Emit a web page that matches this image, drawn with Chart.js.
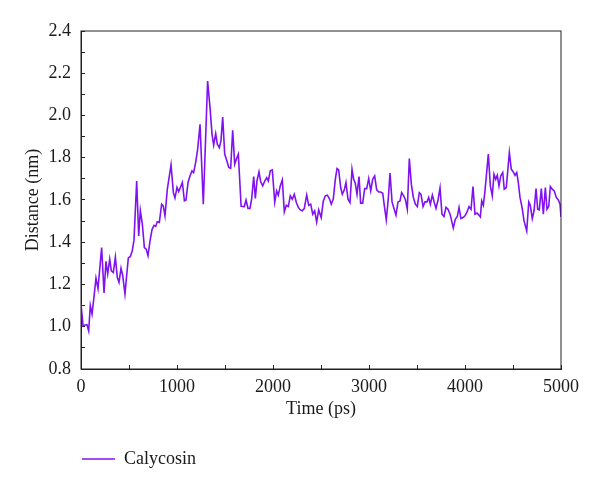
<!DOCTYPE html>
<html>
<head>
<meta charset="utf-8">
<script src="https://cdn.jsdelivr.net/npm/chart.js@4/dist/chart.umd.min.js"></script>
<style>
    html, body { margin: 0; padding: 0; background: #fff; }
    #wrap { width: 600px; height: 491px; }
</style>
</head>
<body>
<div id="wrap"><canvas id="myChart" width="600" height="491"></canvas></div>
<script>
const seriesName = 'Calycosin';
const timePs = [
    0, 21, 45, 62, 80, 97, 115, 135, 156, 177, 215, 240, 260, 278, 299, 316, 337, 358, 378, 396,
    417, 434, 458, 476, 493, 514, 534, 552, 580, 601, 618, 639, 660, 680, 698, 719, 740, 760, 778, 795,
    816, 840, 857, 875, 899, 938, 962, 979, 1000, 1017, 1038, 1056, 1077, 1094, 1115, 1135, 1156, 1173, 1194, 1215,
    1240, 1274, 1319, 1344, 1365, 1382, 1403, 1420, 1441, 1458, 1476, 1497, 1518, 1539, 1559, 1580, 1601, 1618, 1639, 1668,
    1701, 1719, 1740, 1760, 1778, 1799, 1816, 1833, 1854, 1872, 1893, 1914, 1934, 1951, 1972, 1993, 2018, 2038, 2055, 2076,
    2097, 2118, 2139, 2160, 2180, 2201, 2222, 2243, 2264, 2284, 2305, 2326, 2351, 2372, 2393, 2414, 2434, 2455, 2476, 2502,
    2524, 2545, 2566, 2587, 2607, 2628, 2649, 2667, 2684, 2705, 2722, 2743, 2760, 2781, 2802, 2823, 2840, 2857, 2875, 2896,
    2913, 2934, 2955, 2976, 2997, 3018, 3038, 3059, 3080, 3101, 3122, 3143, 3159, 3180, 3201, 3219, 3240, 3260, 3281, 3302,
    3323, 3340, 3357, 3378, 3399, 3420, 3441, 3462, 3483, 3503, 3524, 3542, 3563, 3583, 3604, 3622, 3639, 3660, 3680, 3698,
    3719, 3740, 3760, 3781, 3802, 3823, 3844, 3861, 3878, 3899, 3920, 3938, 3958, 3979, 4000, 4021, 4042, 4063, 4083, 4104,
    4125, 4146, 4160, 4174, 4191, 4208, 4243, 4264, 4284, 4302, 4320, 4336, 4354, 4372, 4393, 4409, 4430, 4462, 4482, 4503,
    4521, 4539, 4555, 4573, 4594, 4615, 4643, 4664, 4680, 4701, 4719, 4740, 4757, 4774, 4795, 4816, 4837, 4854, 4872, 4889,
    4909, 4930, 4951, 4972, 4990, 5000
];
const distanceNm = [
    1.107, 1.005, 1.008, 1.01, 0.98, 1.10, 1.06, 1.14, 1.23, 1.18, 1.375, 1.16, 1.31, 1.25, 1.32, 1.265, 1.257, 1.33, 1.234, 1.21,
    1.277, 1.244, 1.155, 1.244, 1.326, 1.333, 1.36, 1.41, 1.69, 1.43, 1.55, 1.486, 1.375, 1.367, 1.336, 1.406, 1.46, 1.48, 1.475, 1.497,
    1.494, 1.58, 1.572, 1.525, 1.65, 1.766, 1.635, 1.61, 1.66, 1.64, 1.662, 1.683, 1.596, 1.60, 1.683, 1.714, 1.738, 1.73, 1.777, 1.84,
    1.958, 1.58, 2.163, 2.037, 1.911, 1.86, 1.914, 1.864, 1.848, 1.88, 1.993, 1.816, 1.788, 1.754, 1.75, 1.93, 1.77, 1.793, 1.817, 1.57,
    1.569, 1.60, 1.56, 1.56, 1.607, 1.711, 1.607, 1.69, 1.733, 1.686, 1.667, 1.69, 1.706, 1.69, 1.738, 1.742, 1.59, 1.643, 1.623, 1.667,
    1.695, 1.544, 1.575, 1.569, 1.62, 1.604, 1.627, 1.588, 1.565, 1.553, 1.549, 1.56, 1.623, 1.575, 1.58, 1.533, 1.549, 1.496, 1.553, 1.517,
    1.596, 1.62, 1.623, 1.607, 1.58, 1.604, 1.698, 1.749, 1.742, 1.659, 1.627, 1.648, 1.683, 1.604, 1.588, 1.746, 1.698, 1.679, 1.627, 1.711,
    1.585, 1.585, 1.654, 1.654, 1.702, 1.643, 1.698, 1.714, 1.648, 1.638, 1.638, 1.632, 1.575, 1.506, 1.607, 1.727, 1.591, 1.56, 1.528, 1.591,
    1.596, 1.635, 1.623, 1.604, 1.556, 1.796, 1.675, 1.612, 1.58, 1.569, 1.635, 1.627, 1.569, 1.591, 1.591, 1.612, 1.58, 1.623, 1.588, 1.56,
    1.60, 1.657, 1.533, 1.522, 1.565, 1.556, 1.533, 1.501, 1.468, 1.509, 1.522, 1.565, 1.512, 1.517, 1.525, 1.544, 1.569, 1.556, 1.664, 1.533,
    1.538, 1.528, 1.52, 1.596, 1.575, 1.643, 1.817, 1.667, 1.62, 1.722, 1.698, 1.717, 1.667, 1.714, 1.73, 1.651, 1.659, 1.825, 1.746, 1.733,
    1.717, 1.73, 1.683, 1.612, 1.565, 1.501, 1.454, 1.591, 1.575, 1.512, 1.548, 1.654, 1.556, 1.553, 1.654, 1.533, 1.659, 1.556, 1.569, 1.664,
    1.651, 1.643, 1.612, 1.60, 1.58, 1.52
];
const xTickLabels = [0, 1000, 2000, 3000, 4000, 5000];
const yTickLabels = [0.8, 1.0, 1.2, 1.4, 1.6, 1.8, 2.0, 2.2, 2.4];

const textFont = { family: '"Liberation Serif", "DejaVu Serif", serif', size: 18 };
const textColor = '#1a1a1a';
const lineColor = '#8012f2';

// draws the top and right edges of the plot box
const frame = {
    id: 'frame',
    afterDraw(chart) {
        const { ctx, chartArea } = chart;
        ctx.save();
        ctx.strokeStyle = '#222';
        ctx.lineWidth = 1;
        ctx.strokeRect(chartArea.left, chartArea.top, chartArea.right - chartArea.left, chartArea.bottom - chartArea.top);
        ctx.restore();
    }
};

function makeChart() {
    const ctx = document.getElementById('myChart');
    const points = timePs.map((t, i) => ({ x: t, y: distanceNm[i] }));

    new Chart(ctx, {
        type: 'line',
        data: {
            datasets: [{
                label: seriesName,
                data: points,
                borderColor: lineColor,
                backgroundColor: lineColor,
                borderWidth: 1.6,
                pointRadius: 0,
                tension: 0
            }]
        },
        plugins: [frame],
        options: {
            responsive: false,
            animation: false,
            layout: { padding: { top: 31, right: 39, bottom: 13, left: 0 } },
            plugins: {
                tooltip: { enabled: false },
                legend: {
                    position: 'bottom',
                    align: 'start',
                    fullSize: false,
                    labels: {
                        usePointStyle: true,
                        pointStyle: 'line',
                        pointStyleWidth: 33,
                        padding: 1,
                        color: textColor,
                        font: textFont
                    }
                }
            },
            scales: {
                x: {
                    type: 'linear',
                    min: 0,
                    max: 5000,
                    afterFit: (scale) => { scale.height = 80; },
                    border: { display: true, color: '#222', width: 1 },
                    grid: { drawOnChartArea: false, drawTicks: true, tickLength: -4, color: '#222' },
                    ticks: {
                        stepSize: 500,
                        autoSkip: false,
                        maxRotation: 0,
                        padding: 11,
                        color: textColor,
                        font: textFont,
                        callback: (v) => xTickLabels.includes(v) ? String(v) : ''
                    },
                    title: {
                        display: true,
                        text: 'Time (ps)',
                        color: textColor,
                        font: textFont,
                        padding: { top: 0, bottom: 29 }
                    }
                },
                y: {
                    min: 0.8,
                    max: 2.4,
                    afterFit: (scale) => { scale.width = 81; },
                    border: { display: true, color: '#222', width: 1 },
                    grid: { drawOnChartArea: false, drawTicks: true, tickLength: -4, color: '#222' },
                    ticks: {
                        stepSize: 0.1,
                        autoSkip: false,
                        padding: 14,
                        color: textColor,
                        font: textFont,
                        callback: (v) => {
                            const hit = yTickLabels.find(l => Math.abs(l - v) < 1e-6);
                            return hit !== undefined ? hit.toFixed(1) : '';
                        }
                    },
                    title: {
                        display: true,
                        text: 'Distance (nm)',
                        color: textColor,
                        font: textFont,
                        padding: { top: 22, bottom: 0 }
                    }
                }
            }
        }
    });
}

makeChart();
</script>
</body>
</html>
